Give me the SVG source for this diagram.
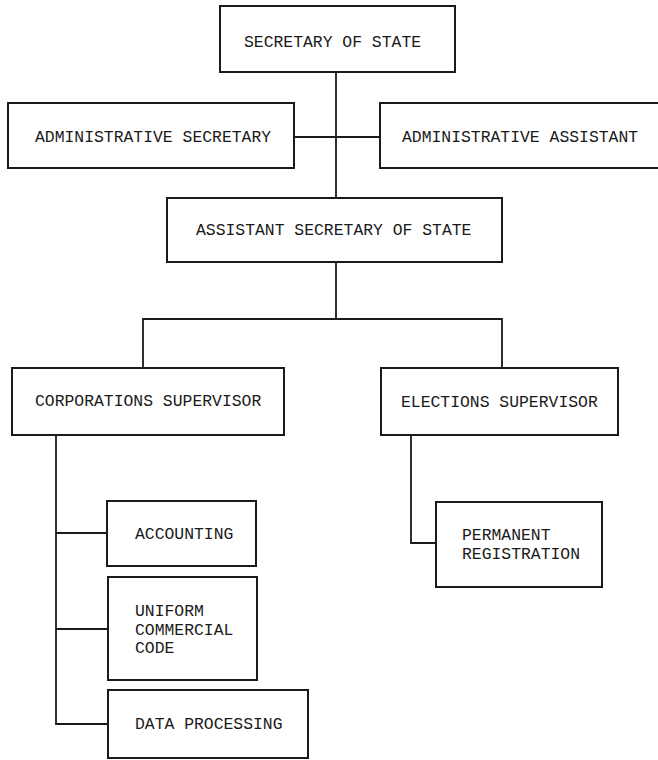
<svg xmlns="http://www.w3.org/2000/svg" width="658" height="760" viewBox="0 0 658 760">
<style>
.box{fill:#fff;stroke:#1a1a1a;stroke-width:2}
.lbl{font-family:"Liberation Mono","Courier New",monospace;font-size:16.4px;fill:#1a1a1a}
.con{fill:none;stroke:#1a1a1a;stroke-width:1.8}
</style>
<rect width="658" height="760" fill="#fff"/>
<g id="connectors">
<line class="con" x1="336" y1="72" x2="336" y2="198"/>
<line class="con" x1="294" y1="137" x2="380" y2="137"/>
<line class="con" x1="336" y1="262" x2="336" y2="319"/>
<polyline class="con" points="143,368 143,319 502,319 502,368"/>
<line class="con" x1="56" y1="435" x2="56" y2="725"/>
<line class="con" x1="56" y1="533" x2="107" y2="533"/>
<line class="con" x1="56" y1="629" x2="108" y2="629"/>
<line class="con" x1="56" y1="724" x2="108" y2="724"/>
<polyline class="con" points="411,435 411,543 436,543"/>
</g>
<g id="secretary-of-state">
<rect class="box" x="220" y="6" width="235" height="66"/>
<text class="lbl" x="244" y="47">SECRETARY OF STATE</text>
</g>
<g id="administrative-secretary">
<rect class="box" x="8" y="103" width="286" height="65"/>
<text class="lbl" x="35" y="142">ADMINISTRATIVE SECRETARY</text>
</g>
<g id="administrative-assistant">
<rect class="box" x="380" y="103" width="290" height="65"/>
<text class="lbl" x="402" y="142">ADMINISTRATIVE ASSISTANT</text>
</g>
<g id="assistant-secretary-of-state">
<rect class="box" x="167" y="198" width="335" height="64"/>
<text class="lbl" x="196" y="235">ASSISTANT SECRETARY OF STATE</text>
</g>
<g id="corporations-supervisor">
<rect class="box" x="12" y="368" width="272" height="67"/>
<text class="lbl" x="35" y="406">CORPORATIONS SUPERVISOR</text>
</g>
<g id="elections-supervisor">
<rect class="box" x="381" y="368" width="237" height="67"/>
<text class="lbl" x="401" y="407">ELECTIONS SUPERVISOR</text>
</g>
<g id="accounting">
<rect class="box" x="107" y="501" width="149" height="65"/>
<text class="lbl" x="135" y="539">ACCOUNTING</text>
</g>
<g id="uniform-commercial-code">
<rect class="box" x="108" y="577" width="149" height="103"/>
<text class="lbl" x="135" y="616">UNIFORM</text>
<text class="lbl" x="135" y="635">COMMERCIAL</text>
<text class="lbl" x="135" y="653">CODE</text>
</g>
<g id="data-processing">
<rect class="box" x="108" y="690" width="200" height="68"/>
<text class="lbl" x="135" y="729">DATA PROCESSING</text>
</g>
<g id="permanent-registration">
<rect class="box" x="436" y="502" width="166" height="85"/>
<text class="lbl" x="462" y="540">PERMANENT</text>
<text class="lbl" x="462" y="559">REGISTRATION</text>
</g>
</svg>
